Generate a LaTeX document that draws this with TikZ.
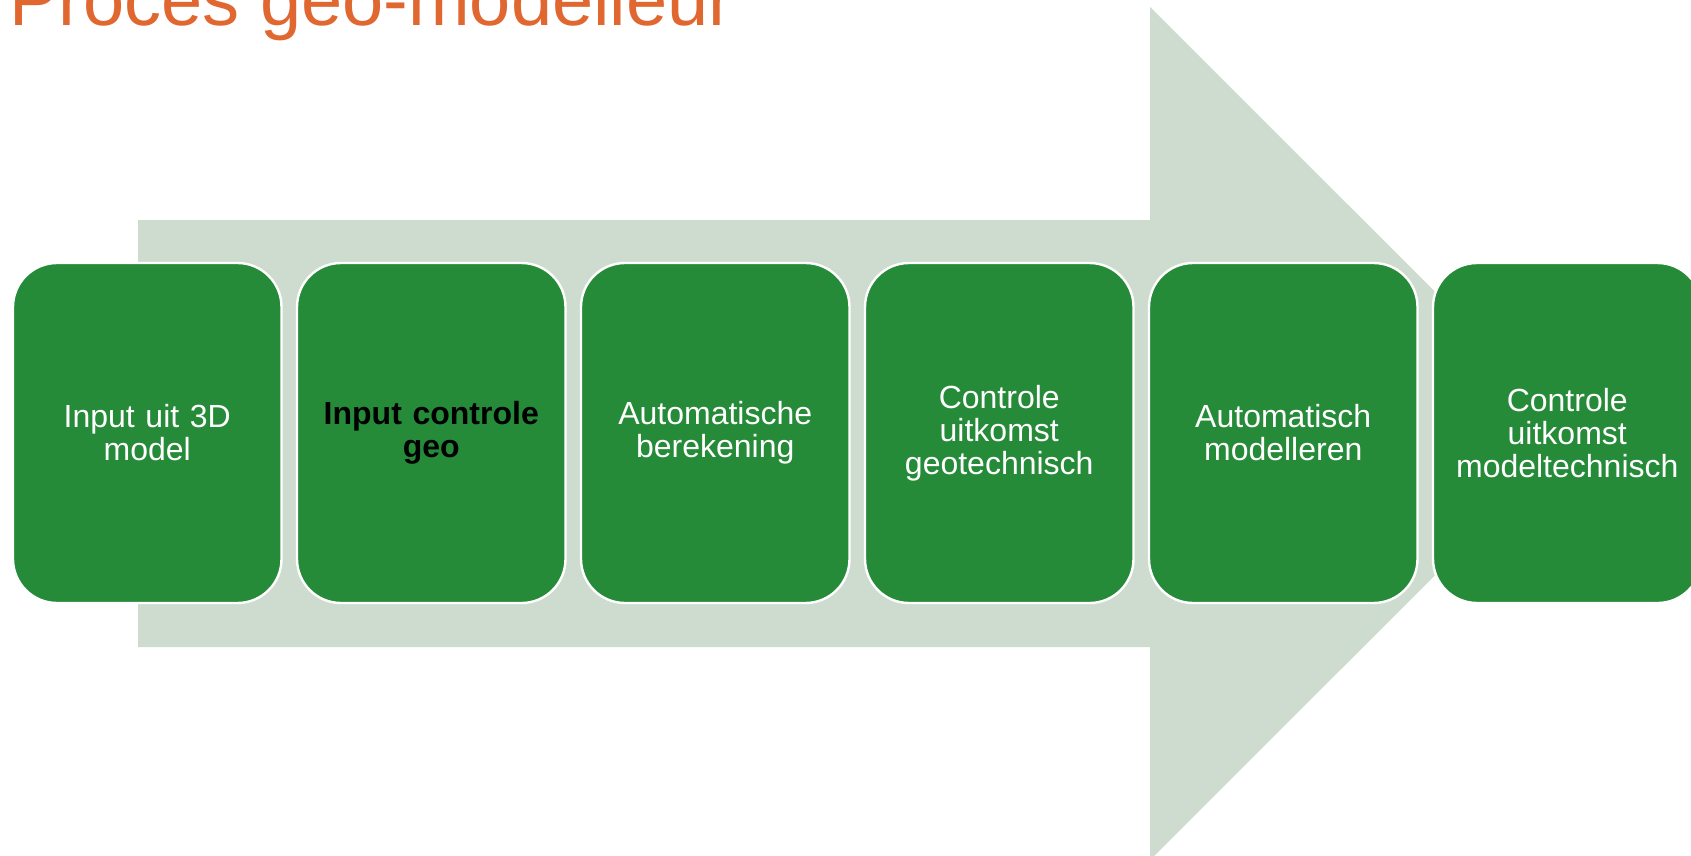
\documentclass[tikz,border=0pt]{standalone}
\usepackage{fontspec}
\setmainfont{Liberation Sans}
\usetikzlibrary{positioning}
\definecolor{stagegreen}{HTML}{258B38}
\definecolor{arrowgrey}{HTML}{CEDCD0}
\definecolor{titleorange}{HTML}{E0672F}

\begin{document}
\begin{tikzpicture}
  [x=0.5pt, y=-0.5pt, node distance=7.75pt]
  \tikzset{stage/.style={draw=white, line width=1.2pt, fill=stagegreen, rounded corners=22pt, text=white, minimum width=134.25pt, minimum height=170pt, text width=122pt, align=center, inner sep=0pt, outer sep=0pt, font=\fontsize{16}{16.5}\selectfont}}
  \tikzset{boldstage/.style={stage, text=black, font=\fontsize{16}{16.5}\selectfont\bfseries}}

  \useasboundingbox (0,0) rectangle (1691,856);
  \clip (0,0) rectangle (1691,856);

  % Title
  \node [anchor=base west, inner sep=0pt, text=titleorange, font=\fontsize{37}{40}\selectfont] (title) at (9,26) {Proces geo-modelleur};

  % Arrow
  \fill [arrowgrey] (138,220) -- (1150,220) -- (1150,7) -- (1577,433.5) -- (1150,860) -- (1150,647) -- (138,647) -- cycle;

  % Stages
  \node [stage, anchor=west] (input) at (13,433) {Input uit 3D\\model};
  \node [boldstage, right=of input] (check) {Input controle\\geo};
  \node [stage, right=of check] (calc) {Automatische\\berekening};
  \node [stage, right=of calc] (geo) {Controle\\uitkomst\\geotechnisch};
  \node [stage, right=of geo] (model) {Automatisch\\modelleren};
  \node [stage, right=of model] (final) {Controle\\uitkomst\\modeltechnisch};
\end{tikzpicture}
\end{document}
